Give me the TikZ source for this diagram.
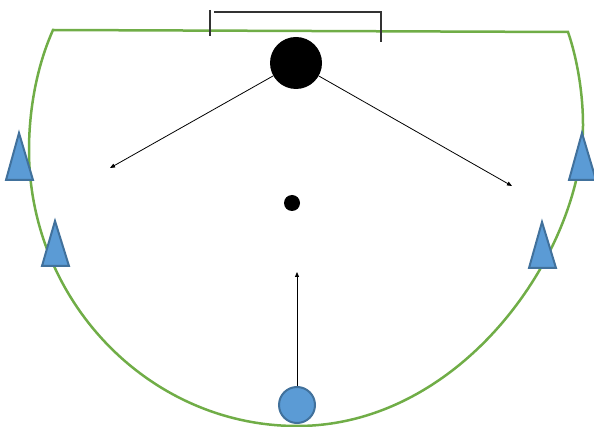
\documentclass[tikz,border=0pt]{standalone}
\usetikzlibrary{arrows.meta}
\definecolor{fieldgreen}{HTML}{70AD47}
\definecolor{coneblue}{HTML}{5B9BD5}
\definecolor{coneedge}{HTML}{41719C}
\begin{document}
\begin{tikzpicture}[x=1pt,y=-1pt,
  field/.style={draw=fieldgreen,line width=2.5pt,line join=miter},
  cone/.style={fill=coneblue,draw=coneedge,line width=2pt,line join=miter},
  move/.style={draw=black,line width=0.8pt,-{Triangle[length=5pt,width=4pt]}},
  goalline/.style={draw=black!80,line width=1.2pt}]
\useasboundingbox (0,0) rectangle (594,427);
% field
\draw[field] (53,30) -- (568,32)
  .. controls (576,55) and (583,90) .. (583,125)
  .. controls (583,251) and (463,426) .. (297,426)
  .. controls (150,426) and (29,302) .. (29,150)
  .. controls (29,112) and (36,68) .. (53,30) -- cycle;
% goal
\draw[goalline] (210,10) -- (210,36);
\draw[goalline] (214,12) -- (381,12) -- (381,42);
% balls and player
\node[circle,fill=black,minimum size=52pt,inner sep=0pt] (ball) at (296,63) {};
\node[circle,fill=black,minimum size=16pt,inner sep=0pt] (dot) at (292,203) {};
\node[circle,fill=coneblue,draw=coneedge,line width=2pt,minimum size=36pt,inner sep=0pt] (player) at (297,405) {};
\coordinate (endL) at (110,168);
\coordinate (endR) at (512,186);
\coordinate (endU) at (297,272);
\draw[move] (ball) -- (endL);
\draw[move] (ball) -- (endR);
\draw[move] (player) -- (endU);
% cones
\draw[cone] (19,133) -- (33,180) -- (6,180) -- cycle;
\draw[cone] (55,221) -- (69,266) -- (42,266) -- cycle;
\draw[cone] (582,133) -- (596,180) -- (569,180) -- cycle;
\draw[cone] (542,222) -- (556,268) -- (529,268) -- cycle;
\end{tikzpicture}
\end{document}
